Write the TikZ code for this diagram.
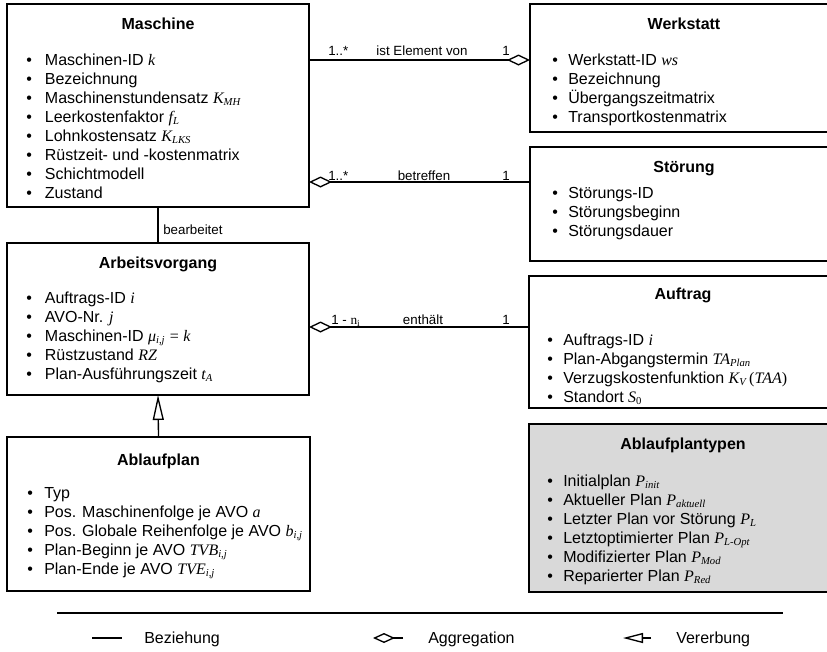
\documentclass[tikz,border=0pt]{standalone}
\usepackage{fontspec}
\setmainfont{Liberation Sans}
\newfontfamily\serifvar{Liberation Serif}
\usetikzlibrary{arrows.meta,calc}
% italic formula symbols and their subscripts
\newcommand\mv[1]{{\serifvar\itshape #1}}
\newcommand\sbi[1]{\textsubscript{\serifvar\itshape #1}}
% bullet of an attribute line; the gap to the text is set per list
\newlength\bgap
\newcommand\itm{\makebox[\bgap][l]{\textbullet}}
\newcommand\blist[2][12pt]{\setlength\bgap{#1}\begin{tabular}[t]{@{}l@{}}#2\end{tabular}}

\begin{document}
\begin{tikzpicture}[x=0.75pt,y=-0.75pt,
  box/.style={draw=black, line width=1pt, anchor=north west, inner sep=0pt, outer sep=0pt},
  title/.style={font=\fontsize{12}{14.25}\selectfont\bfseries, anchor=base, inner sep=0pt},
  attrs/.style={font=\fontsize{12}{14.25}\selectfont, anchor=base west, inner sep=0pt},
  lbl/.style={font=\fontsize{10}{12}\selectfont, anchor=base, inner sep=0pt},
  lblw/.style={lbl, anchor=base west},
  legtext/.style={font=\fontsize{12}{14}\selectfont, anchor=base west, inner sep=0pt},
  conn/.style={line width=1pt},
  agg/.style={conn, -{Diamond[fill=white, length=17.25pt, width=8.25pt]}},
  inh/.style={conn, -{Triangle[fill=white, length=18.75pt, width=8.25pt]}},
]
\useasboundingbox (0,0) rectangle (827,651);
\clip (0,0) rectangle (827,651);

% ---------- classes ----------
\node[box, minimum width=226.5pt, minimum height=152.25pt] (masch) at (7,4) {};
\node[title] (maschT) at (158,29) {Maschine};
\node[attrs] (maschA) at (26,65) {\blist[14pt]{%
\itm Maschinen-ID \mv{k}\\
\itm Bezeichnung\\
\itm Maschinenstundensatz \mv{K}\sbi{MH}\\
\itm Leerkostenfaktor \mv{f}\sbi{L}\\
\itm Lohnkostensatz \mv{K}\sbi{LKS}\\
\itm Rüstzeit- und -kostenmatrix\\
\itm Schichtmodell\\
\itm Zustand}};

\node[box, minimum width=231pt, minimum height=96pt] (werk) at (530,4) {};
\node[title] (werkT) at (684,29) {Werkstatt};
\node[attrs] (werkA) at (552,65) {\blist[12pt]{%
\itm Werkstatt-ID \mv{ws}\\
\itm Bezeichnung\\
\itm Übergangszeitmatrix\\
\itm Transportkostenmatrix}};

\node[box, minimum width=231pt, minimum height=85.5pt] (stoer) at (530,147) {};
\node[title] (stoerT) at (684,172) {Störung};
\node[attrs] (stoerA) at (552,198) {\blist[12pt]{%
\itm Störungs-ID\\
\itm Störungsbeginn\\
\itm Störungsdauer}};

\node[box, minimum width=226.5pt, minimum height=114pt] (avo) at (7,243) {};
\node[title] (avoT) at (158,268) {Arbeitsvorgang};
\node[attrs] (avoA) at (26,303.5) {\blist[14pt]{%
\itm Auftrags-ID \mv{i}\\
\itm AVO-Nr. \mv{j}\\
\itm Maschinen-ID \mv{μ}\sbi{i,j} {\serifvar =} \mv{k}\\
\itm Rüstzustand \mv{RZ}\\
\itm Plan-Ausführungszeit \mv{t}\sbi{A}}};

\node[box, minimum width=231.75pt, minimum height=99pt] (auf) at (529,276) {};
\node[title] (aufT) at (683,299) {Auftrag};
\node[attrs] (aufA) at (547,345) {\blist[12pt]{%
\itm Auftrags-ID \mv{i}\\
\itm Plan-Abgangstermin \mv{TA}\sbi{Plan}\\
\itm Verzugskostenfunktion \mv{K}\sbi{V}\,{\serifvar (}\mv{TAA}{\serifvar )}\\
\itm Standort \mv{S}\textsubscript{\serifvar 0}}};

\node[box, fill=black!15, minimum width=231.75pt, minimum height=126pt] (typen) at (529,424) {};
\node[title] (typenT) at (683,449) {Ablaufplantypen};
\node[attrs] (typenA) at (547,486) {\blist[12pt]{%
\itm Initialplan \mv{P}\sbi{init}\\
\itm Aktueller Plan \mv{P}\sbi{aktuell}\\
\itm Letzter Plan vor Störung \mv{P}\sbi{L}\\
\itm Letztoptimierter Plan \mv{P}\sbi{L-Opt}\\
\itm Modifizierter Plan \mv{P}\sbi{Mod}\\
\itm Reparierter Plan \mv{P}\sbi{Red}}};

\node[box, minimum width=227.25pt, minimum height=115.5pt] (plan) at (7,437) {};
\node[title] (planT) at (158.5,465) {Ablaufplan};
\node[attrs] (planA) at (27,498.5) {\blist[12.75pt]{%
\itm Typ\\
\itm Pos. Maschinenfolge je AVO \mv{a}\\
\itm Pos. Globale Reihenfolge je AVO \mv{b}\sbi{i,j}\\
\itm Plan-Beginn je AVO \mv{TVB}\sbi{i,j}\\
\itm Plan-Ende je AVO \mv{TVE}\sbi{i,j}}};

% ---------- associations ----------
\coordinate (mw) at ([yshift=-42pt]masch.north east);
\draw[agg] (mw) -- (mw -| werk.west);
\node[lblw] (mwA) at (328,55) {1..*};
\node[lbl] (mwL) at (422,55) {ist Element von};
\node[lbl] (mwB) at (506,55) {1};

\coordinate (sm) at ([yshift=-26.25pt]stoer.north west);
\draw[agg] (sm) -- (sm -| masch.east);
\node[lblw] (smA) at (328,180) {1..*};
\node[lbl] (smL) at (424,180) {betreffen};
\node[lbl] (smB) at (506,180) {1};

\draw[conn] (masch.south) -- (avo.north);
\node[lblw] (maL) at (163,234) {bearbeitet};

\coordinate (aa) at ([yshift=-38.25pt]auf.north west);
\draw[agg] (aa) -- (aa -| avo.east);
\node[lblw] (aaA) at (331,324) {1 - {\serifvar n}\textsubscript{\serifvar i}};
\node[lbl] (aaL) at (423,324) {enthält};
\node[lbl] (aaB) at (506,324) {1};

\draw[inh] (plan.north) -- (avo.south);

% ---------- legend ----------
\coordinate (legL) at (57,613);
\coordinate (legR) at (783,613);
\draw[line width=1.5pt] (legL) -- (legR);

\coordinate (b1) at (92,638);
\coordinate (b2) at (122,638);
\draw[conn] (b1) -- (b2);
\node[legtext] (bT) at (144,643) {Beziehung};

\coordinate (g1) at (403,638);
\coordinate (g2) at (373,638);
\draw[conn, -{Diamond[fill=white, length=16.5pt, width=7.5pt]}] (g1) -- (g2);
\node[legtext] (gT) at (428,643) {Aggregation};

\coordinate (v1) at (651,638);
\coordinate (v2) at (623,638);
\draw[conn, -{Triangle[fill=white, length=15pt, width=7.5pt]}] (v1) -- (v2);
\node[legtext] (vT) at (676,643) {Vererbung};
\end{tikzpicture}
\end{document}
